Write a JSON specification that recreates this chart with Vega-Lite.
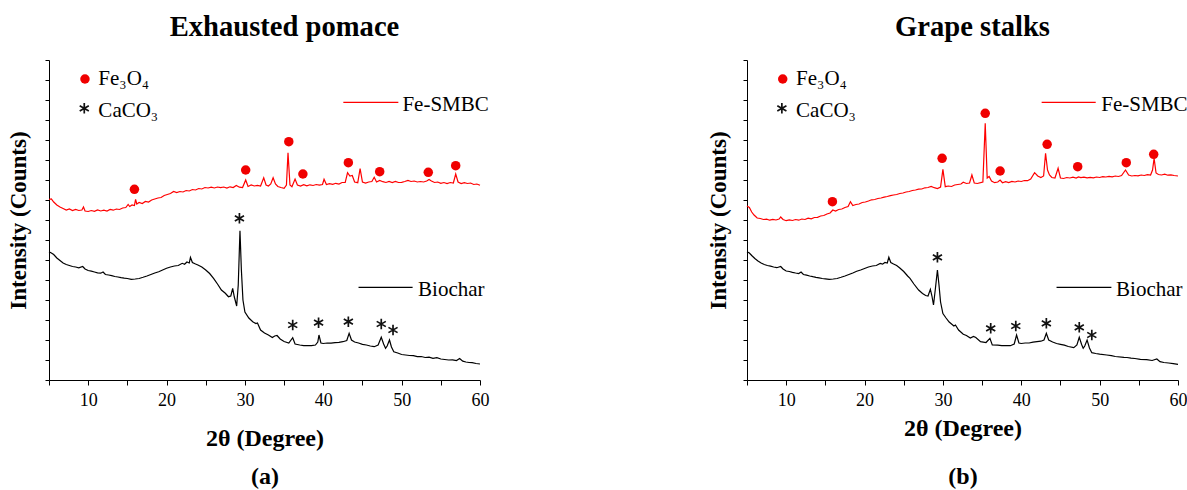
{
"$schema": "https://vega.github.io/schema/vega-lite/v6.json",
"autosize": {"type": "none"},
"padding": {"left": 49, "top": 60, "right": 1138, "bottom": 430},
"spacing": 267,
"bounds": "flush",
"config": {"view": {"stroke": null}, "font": "Liberation Serif", "text": {"font": "Liberation Serif"}},
"datasets": {
"curves": [
{"p":"a","s":"Fe-SMBC","x":5,"y":180.7},{"p":"a","s":"Fe-SMBC","x":5.3,"y":181},{"p":"a","s":"Fe-SMBC","x":5.6,"y":178},{"p":"a","s":"Fe-SMBC","x":6,"y":175},{"p":"a","s":"Fe-SMBC","x":6.4,"y":173},{"p":"a","s":"Fe-SMBC","x":6.8,"y":171.5},{"p":"a","s":"Fe-SMBC","x":7.2,"y":170},{"p":"a","s":"Fe-SMBC","x":7.6,"y":171},{"p":"a","s":"Fe-SMBC","x":8,"y":169.5},{"p":"a","s":"Fe-SMBC","x":8.4,"y":170.5},{"p":"a","s":"Fe-SMBC","x":8.8,"y":169.5},{"p":"a","s":"Fe-SMBC","x":9.2,"y":170},{"p":"a","s":"Fe-SMBC","x":9.4,"y":173},{"p":"a","s":"Fe-SMBC","x":9.6,"y":169},{"p":"a","s":"Fe-SMBC","x":10,"y":168.5},{"p":"a","s":"Fe-SMBC","x":10.4,"y":169.5},{"p":"a","s":"Fe-SMBC","x":10.8,"y":168.7},{"p":"a","s":"Fe-SMBC","x":11.2,"y":170},{"p":"a","s":"Fe-SMBC","x":11.6,"y":169},{"p":"a","s":"Fe-SMBC","x":12,"y":169.8},{"p":"a","s":"Fe-SMBC","x":12.4,"y":169},{"p":"a","s":"Fe-SMBC","x":12.8,"y":170.5},{"p":"a","s":"Fe-SMBC","x":13.2,"y":169.8},{"p":"a","s":"Fe-SMBC","x":13.6,"y":171},{"p":"a","s":"Fe-SMBC","x":14,"y":170.5},{"p":"a","s":"Fe-SMBC","x":14.4,"y":172},{"p":"a","s":"Fe-SMBC","x":14.8,"y":172.5},{"p":"a","s":"Fe-SMBC","x":15.1,"y":175.5},{"p":"a","s":"Fe-SMBC","x":15.3,"y":173.5},{"p":"a","s":"Fe-SMBC","x":15.6,"y":175},{"p":"a","s":"Fe-SMBC","x":15.9,"y":174.5},{"p":"a","s":"Fe-SMBC","x":16.05,"y":180.7},{"p":"a","s":"Fe-SMBC","x":16.2,"y":176},{"p":"a","s":"Fe-SMBC","x":16.5,"y":177.5},{"p":"a","s":"Fe-SMBC","x":16.9,"y":176.5},{"p":"a","s":"Fe-SMBC","x":17.3,"y":178.5},{"p":"a","s":"Fe-SMBC","x":17.7,"y":178},{"p":"a","s":"Fe-SMBC","x":18.1,"y":180},{"p":"a","s":"Fe-SMBC","x":18.5,"y":181},{"p":"a","s":"Fe-SMBC","x":18.9,"y":182},{"p":"a","s":"Fe-SMBC","x":19.3,"y":182.5},{"p":"a","s":"Fe-SMBC","x":19.7,"y":184.5},{"p":"a","s":"Fe-SMBC","x":20.1,"y":185.5},{"p":"a","s":"Fe-SMBC","x":20.5,"y":186.5},{"p":"a","s":"Fe-SMBC","x":20.9,"y":188.5},{"p":"a","s":"Fe-SMBC","x":21.3,"y":187.5},{"p":"a","s":"Fe-SMBC","x":21.7,"y":188.5},{"p":"a","s":"Fe-SMBC","x":22.1,"y":188},{"p":"a","s":"Fe-SMBC","x":22.5,"y":189.5},{"p":"a","s":"Fe-SMBC","x":22.9,"y":189},{"p":"a","s":"Fe-SMBC","x":23.3,"y":190.5},{"p":"a","s":"Fe-SMBC","x":23.7,"y":190},{"p":"a","s":"Fe-SMBC","x":24.1,"y":191.5},{"p":"a","s":"Fe-SMBC","x":24.5,"y":191},{"p":"a","s":"Fe-SMBC","x":24.9,"y":192.5},{"p":"a","s":"Fe-SMBC","x":25.3,"y":192},{"p":"a","s":"Fe-SMBC","x":25.7,"y":192.8},{"p":"a","s":"Fe-SMBC","x":26.1,"y":192},{"p":"a","s":"Fe-SMBC","x":26.5,"y":193},{"p":"a","s":"Fe-SMBC","x":26.9,"y":192.3},{"p":"a","s":"Fe-SMBC","x":27.3,"y":193},{"p":"a","s":"Fe-SMBC","x":27.7,"y":192},{"p":"a","s":"Fe-SMBC","x":28.1,"y":193.2},{"p":"a","s":"Fe-SMBC","x":28.5,"y":192.5},{"p":"a","s":"Fe-SMBC","x":28.9,"y":194.5},{"p":"a","s":"Fe-SMBC","x":29.3,"y":192.8},{"p":"a","s":"Fe-SMBC","x":29.7,"y":192.5},{"p":"a","s":"Fe-SMBC","x":30.1,"y":200},{"p":"a","s":"Fe-SMBC","x":30.4,"y":193.5},{"p":"a","s":"Fe-SMBC","x":30.8,"y":195},{"p":"a","s":"Fe-SMBC","x":31.2,"y":194},{"p":"a","s":"Fe-SMBC","x":31.6,"y":194.7},{"p":"a","s":"Fe-SMBC","x":32,"y":194},{"p":"a","s":"Fe-SMBC","x":32.4,"y":202.3},{"p":"a","s":"Fe-SMBC","x":32.7,"y":195},{"p":"a","s":"Fe-SMBC","x":33,"y":194},{"p":"a","s":"Fe-SMBC","x":33.3,"y":196},{"p":"a","s":"Fe-SMBC","x":33.6,"y":202.3},{"p":"a","s":"Fe-SMBC","x":33.9,"y":196},{"p":"a","s":"Fe-SMBC","x":34.2,"y":193.5},{"p":"a","s":"Fe-SMBC","x":34.6,"y":192.5},{"p":"a","s":"Fe-SMBC","x":35,"y":191.7},{"p":"a","s":"Fe-SMBC","x":35.3,"y":195},{"p":"a","s":"Fe-SMBC","x":35.5,"y":227.3},{"p":"a","s":"Fe-SMBC","x":35.75,"y":195},{"p":"a","s":"Fe-SMBC","x":36,"y":193.3},{"p":"a","s":"Fe-SMBC","x":36.4,"y":201},{"p":"a","s":"Fe-SMBC","x":36.7,"y":195},{"p":"a","s":"Fe-SMBC","x":37.1,"y":194},{"p":"a","s":"Fe-SMBC","x":37.5,"y":195.3},{"p":"a","s":"Fe-SMBC","x":37.9,"y":194.2},{"p":"a","s":"Fe-SMBC","x":38.3,"y":195.2},{"p":"a","s":"Fe-SMBC","x":38.7,"y":194.5},{"p":"a","s":"Fe-SMBC","x":39.1,"y":195.5},{"p":"a","s":"Fe-SMBC","x":39.5,"y":194.8},{"p":"a","s":"Fe-SMBC","x":39.9,"y":195.5},{"p":"a","s":"Fe-SMBC","x":40.1,"y":200.7},{"p":"a","s":"Fe-SMBC","x":40.4,"y":195.5},{"p":"a","s":"Fe-SMBC","x":40.8,"y":196.3},{"p":"a","s":"Fe-SMBC","x":41.2,"y":195.6},{"p":"a","s":"Fe-SMBC","x":41.6,"y":196.7},{"p":"a","s":"Fe-SMBC","x":42,"y":196},{"p":"a","s":"Fe-SMBC","x":42.4,"y":197.5},{"p":"a","s":"Fe-SMBC","x":42.8,"y":197.5},{"p":"a","s":"Fe-SMBC","x":43.1,"y":207.3},{"p":"a","s":"Fe-SMBC","x":43.4,"y":204},{"p":"a","s":"Fe-SMBC","x":43.7,"y":204.5},{"p":"a","s":"Fe-SMBC","x":44,"y":198},{"p":"a","s":"Fe-SMBC","x":44.4,"y":197.3},{"p":"a","s":"Fe-SMBC","x":44.7,"y":211.3},{"p":"a","s":"Fe-SMBC","x":45,"y":198},{"p":"a","s":"Fe-SMBC","x":45.4,"y":197},{"p":"a","s":"Fe-SMBC","x":45.8,"y":198},{"p":"a","s":"Fe-SMBC","x":46.2,"y":198.5},{"p":"a","s":"Fe-SMBC","x":46.5,"y":202.7},{"p":"a","s":"Fe-SMBC","x":46.8,"y":198},{"p":"a","s":"Fe-SMBC","x":47.2,"y":199.5},{"p":"a","s":"Fe-SMBC","x":47.6,"y":198.3},{"p":"a","s":"Fe-SMBC","x":48,"y":197.5},{"p":"a","s":"Fe-SMBC","x":48.4,"y":198.5},{"p":"a","s":"Fe-SMBC","x":48.8,"y":197.5},{"p":"a","s":"Fe-SMBC","x":49.2,"y":198.5},{"p":"a","s":"Fe-SMBC","x":49.6,"y":197.5},{"p":"a","s":"Fe-SMBC","x":50,"y":197.7},{"p":"a","s":"Fe-SMBC","x":50.4,"y":198.5},{"p":"a","s":"Fe-SMBC","x":50.8,"y":199.5},{"p":"a","s":"Fe-SMBC","x":51.2,"y":198.5},{"p":"a","s":"Fe-SMBC","x":51.6,"y":199},{"p":"a","s":"Fe-SMBC","x":52,"y":198},{"p":"a","s":"Fe-SMBC","x":52.4,"y":198.5},{"p":"a","s":"Fe-SMBC","x":52.8,"y":198},{"p":"a","s":"Fe-SMBC","x":53.2,"y":199},{"p":"a","s":"Fe-SMBC","x":53.5,"y":200.5},{"p":"a","s":"Fe-SMBC","x":53.8,"y":199},{"p":"a","s":"Fe-SMBC","x":54.2,"y":197.5},{"p":"a","s":"Fe-SMBC","x":54.6,"y":198},{"p":"a","s":"Fe-SMBC","x":55,"y":196.7},{"p":"a","s":"Fe-SMBC","x":55.4,"y":197.5},{"p":"a","s":"Fe-SMBC","x":55.8,"y":196.5},{"p":"a","s":"Fe-SMBC","x":56.2,"y":197.5},{"p":"a","s":"Fe-SMBC","x":56.6,"y":197},{"p":"a","s":"Fe-SMBC","x":56.9,"y":206},{"p":"a","s":"Fe-SMBC","x":57.2,"y":198},{"p":"a","s":"Fe-SMBC","x":57.6,"y":196.5},{"p":"a","s":"Fe-SMBC","x":58,"y":197.3},{"p":"a","s":"Fe-SMBC","x":58.4,"y":196.5},{"p":"a","s":"Fe-SMBC","x":58.8,"y":197},{"p":"a","s":"Fe-SMBC","x":59.2,"y":195.5},{"p":"a","s":"Fe-SMBC","x":59.6,"y":196},{"p":"a","s":"Fe-SMBC","x":60,"y":194.7},
{"p":"a","s":"Biochar","x":5,"y":128.3},{"p":"a","s":"Biochar","x":5.3,"y":127},{"p":"a","s":"Biochar","x":5.6,"y":125.5},{"p":"a","s":"Biochar","x":6,"y":122},{"p":"a","s":"Biochar","x":6.4,"y":119.5},{"p":"a","s":"Biochar","x":6.8,"y":117},{"p":"a","s":"Biochar","x":7.2,"y":115.5},{"p":"a","s":"Biochar","x":7.6,"y":114.5},{"p":"a","s":"Biochar","x":8,"y":113.5},{"p":"a","s":"Biochar","x":8.4,"y":113},{"p":"a","s":"Biochar","x":8.8,"y":112.2},{"p":"a","s":"Biochar","x":9.3,"y":113.5},{"p":"a","s":"Biochar","x":9.6,"y":111},{"p":"a","s":"Biochar","x":10,"y":109.5},{"p":"a","s":"Biochar","x":10.4,"y":108.8},{"p":"a","s":"Biochar","x":10.8,"y":108},{"p":"a","s":"Biochar","x":11.2,"y":107.2},{"p":"a","s":"Biochar","x":11.6,"y":106.8},{"p":"a","s":"Biochar","x":11.9,"y":108},{"p":"a","s":"Biochar","x":12.2,"y":105.5},{"p":"a","s":"Biochar","x":12.6,"y":105},{"p":"a","s":"Biochar","x":13,"y":104.3},{"p":"a","s":"Biochar","x":13.4,"y":103.5},{"p":"a","s":"Biochar","x":13.8,"y":103},{"p":"a","s":"Biochar","x":14.2,"y":102.3},{"p":"a","s":"Biochar","x":14.6,"y":101.8},{"p":"a","s":"Biochar","x":15,"y":101.5},{"p":"a","s":"Biochar","x":15.5,"y":100.7},{"p":"a","s":"Biochar","x":16,"y":101},{"p":"a","s":"Biochar","x":16.5,"y":101.5},{"p":"a","s":"Biochar","x":17,"y":102.7},{"p":"a","s":"Biochar","x":17.5,"y":104},{"p":"a","s":"Biochar","x":18,"y":105.5},{"p":"a","s":"Biochar","x":18.5,"y":107},{"p":"a","s":"Biochar","x":19,"y":108.3},{"p":"a","s":"Biochar","x":19.5,"y":110},{"p":"a","s":"Biochar","x":20,"y":111.7},{"p":"a","s":"Biochar","x":20.5,"y":113},{"p":"a","s":"Biochar","x":21,"y":114},{"p":"a","s":"Biochar","x":21.5,"y":114.5},{"p":"a","s":"Biochar","x":22,"y":116.7},{"p":"a","s":"Biochar","x":22.3,"y":115.8},{"p":"a","s":"Biochar","x":22.6,"y":118},{"p":"a","s":"Biochar","x":22.9,"y":117},{"p":"a","s":"Biochar","x":23.05,"y":122.7},{"p":"a","s":"Biochar","x":23.3,"y":117.5},{"p":"a","s":"Biochar","x":23.7,"y":116},{"p":"a","s":"Biochar","x":24,"y":115},{"p":"a","s":"Biochar","x":24.5,"y":113},{"p":"a","s":"Biochar","x":25,"y":110},{"p":"a","s":"Biochar","x":25.5,"y":106.5},{"p":"a","s":"Biochar","x":26,"y":101.7},{"p":"a","s":"Biochar","x":26.5,"y":96},{"p":"a","s":"Biochar","x":27,"y":90},{"p":"a","s":"Biochar","x":27.5,"y":86.7},{"p":"a","s":"Biochar","x":27.9,"y":83.3},{"p":"a","s":"Biochar","x":28.2,"y":84},{"p":"a","s":"Biochar","x":28.44,"y":91.7},{"p":"a","s":"Biochar","x":28.65,"y":83},{"p":"a","s":"Biochar","x":28.95,"y":74},{"p":"a","s":"Biochar","x":29.15,"y":95},{"p":"a","s":"Biochar","x":29.37,"y":149.3},{"p":"a","s":"Biochar","x":29.55,"y":110},{"p":"a","s":"Biochar","x":29.75,"y":80},{"p":"a","s":"Biochar","x":30,"y":68},{"p":"a","s":"Biochar","x":30.5,"y":62},{"p":"a","s":"Biochar","x":31,"y":58.3},{"p":"a","s":"Biochar","x":31.4,"y":56.5},{"p":"a","s":"Biochar","x":31.6,"y":57},{"p":"a","s":"Biochar","x":32,"y":50},{"p":"a","s":"Biochar","x":32.5,"y":47},{"p":"a","s":"Biochar","x":33,"y":45},{"p":"a","s":"Biochar","x":33.5,"y":42.5},{"p":"a","s":"Biochar","x":33.8,"y":44},{"p":"a","s":"Biochar","x":34.1,"y":44.5},{"p":"a","s":"Biochar","x":34.5,"y":41},{"p":"a","s":"Biochar","x":35,"y":38.5},{"p":"a","s":"Biochar","x":35.6,"y":37},{"p":"a","s":"Biochar","x":36.1,"y":42.3},{"p":"a","s":"Biochar","x":36.4,"y":36},{"p":"a","s":"Biochar","x":37,"y":35},{"p":"a","s":"Biochar","x":37.5,"y":34.3},{"p":"a","s":"Biochar","x":38,"y":34.5},{"p":"a","s":"Biochar","x":38.5,"y":34.3},{"p":"a","s":"Biochar","x":39,"y":35},{"p":"a","s":"Biochar","x":39.3,"y":38},{"p":"a","s":"Biochar","x":39.45,"y":45},{"p":"a","s":"Biochar","x":39.7,"y":37},{"p":"a","s":"Biochar","x":40,"y":36.5},{"p":"a","s":"Biochar","x":40.5,"y":37},{"p":"a","s":"Biochar","x":41,"y":36.8},{"p":"a","s":"Biochar","x":41.5,"y":37.3},{"p":"a","s":"Biochar","x":42,"y":37.7},{"p":"a","s":"Biochar","x":42.5,"y":38.3},{"p":"a","s":"Biochar","x":43,"y":39.5},{"p":"a","s":"Biochar","x":43.3,"y":46.7},{"p":"a","s":"Biochar","x":43.6,"y":40},{"p":"a","s":"Biochar","x":44,"y":38},{"p":"a","s":"Biochar","x":44.5,"y":37},{"p":"a","s":"Biochar","x":45,"y":35.7},{"p":"a","s":"Biochar","x":45.5,"y":35},{"p":"a","s":"Biochar","x":46,"y":34},{"p":"a","s":"Biochar","x":46.5,"y":33.3},{"p":"a","s":"Biochar","x":47,"y":35},{"p":"a","s":"Biochar","x":47.4,"y":42.7},{"p":"a","s":"Biochar","x":47.7,"y":36},{"p":"a","s":"Biochar","x":47.95,"y":31.7},{"p":"a","s":"Biochar","x":48.15,"y":34},{"p":"a","s":"Biochar","x":48.45,"y":40},{"p":"a","s":"Biochar","x":48.7,"y":33},{"p":"a","s":"Biochar","x":49,"y":28.3},{"p":"a","s":"Biochar","x":49.5,"y":27},{"p":"a","s":"Biochar","x":50,"y":25.5},{"p":"a","s":"Biochar","x":50.5,"y":25},{"p":"a","s":"Biochar","x":51,"y":24.5},{"p":"a","s":"Biochar","x":51.5,"y":24.3},{"p":"a","s":"Biochar","x":52,"y":23.3},{"p":"a","s":"Biochar","x":52.5,"y":23.5},{"p":"a","s":"Biochar","x":53,"y":22.5},{"p":"a","s":"Biochar","x":53.5,"y":22.8},{"p":"a","s":"Biochar","x":54,"y":21.7},{"p":"a","s":"Biochar","x":54.5,"y":22.3},{"p":"a","s":"Biochar","x":55,"y":21},{"p":"a","s":"Biochar","x":55.5,"y":20.5},{"p":"a","s":"Biochar","x":56,"y":20},{"p":"a","s":"Biochar","x":56.5,"y":20.2},{"p":"a","s":"Biochar","x":57,"y":19.5},{"p":"a","s":"Biochar","x":57.4,"y":21.5},{"p":"a","s":"Biochar","x":57.8,"y":18.8},{"p":"a","s":"Biochar","x":58.2,"y":18},{"p":"a","s":"Biochar","x":58.6,"y":17.5},{"p":"a","s":"Biochar","x":59,"y":17.3},{"p":"a","s":"Biochar","x":59.5,"y":16.5},{"p":"a","s":"Biochar","x":60,"y":16},
{"p":"b","s":"Fe-SMBC","x":5,"y":174},{"p":"b","s":"Fe-SMBC","x":5.3,"y":172.5},{"p":"b","s":"Fe-SMBC","x":5.6,"y":168},{"p":"b","s":"Fe-SMBC","x":5.9,"y":165},{"p":"b","s":"Fe-SMBC","x":6.3,"y":162},{"p":"b","s":"Fe-SMBC","x":6.7,"y":161.5},{"p":"b","s":"Fe-SMBC","x":7.1,"y":160.5},{"p":"b","s":"Fe-SMBC","x":7.5,"y":160.8},{"p":"b","s":"Fe-SMBC","x":7.9,"y":159.8},{"p":"b","s":"Fe-SMBC","x":8.3,"y":160.7},{"p":"b","s":"Fe-SMBC","x":8.7,"y":160},{"p":"b","s":"Fe-SMBC","x":9.1,"y":161},{"p":"b","s":"Fe-SMBC","x":9.3,"y":163},{"p":"b","s":"Fe-SMBC","x":9.6,"y":160.5},{"p":"b","s":"Fe-SMBC","x":10,"y":159.3},{"p":"b","s":"Fe-SMBC","x":10.4,"y":160.2},{"p":"b","s":"Fe-SMBC","x":10.8,"y":159.5},{"p":"b","s":"Fe-SMBC","x":11.2,"y":160.5},{"p":"b","s":"Fe-SMBC","x":11.6,"y":159.8},{"p":"b","s":"Fe-SMBC","x":12,"y":161},{"p":"b","s":"Fe-SMBC","x":12.4,"y":160.5},{"p":"b","s":"Fe-SMBC","x":12.8,"y":161.8},{"p":"b","s":"Fe-SMBC","x":13.2,"y":161.2},{"p":"b","s":"Fe-SMBC","x":13.6,"y":162.5},{"p":"b","s":"Fe-SMBC","x":14,"y":162.7},{"p":"b","s":"Fe-SMBC","x":14.4,"y":164},{"p":"b","s":"Fe-SMBC","x":14.8,"y":164.5},{"p":"b","s":"Fe-SMBC","x":15.2,"y":166},{"p":"b","s":"Fe-SMBC","x":15.6,"y":167},{"p":"b","s":"Fe-SMBC","x":15.95,"y":170},{"p":"b","s":"Fe-SMBC","x":16.3,"y":169},{"p":"b","s":"Fe-SMBC","x":16.7,"y":170.5},{"p":"b","s":"Fe-SMBC","x":17.1,"y":171},{"p":"b","s":"Fe-SMBC","x":17.5,"y":172.5},{"p":"b","s":"Fe-SMBC","x":17.9,"y":173.5},{"p":"b","s":"Fe-SMBC","x":18.2,"y":178.3},{"p":"b","s":"Fe-SMBC","x":18.5,"y":174.5},{"p":"b","s":"Fe-SMBC","x":18.9,"y":175.5},{"p":"b","s":"Fe-SMBC","x":19.3,"y":176},{"p":"b","s":"Fe-SMBC","x":19.7,"y":177.5},{"p":"b","s":"Fe-SMBC","x":20.1,"y":178},{"p":"b","s":"Fe-SMBC","x":20.5,"y":179},{"p":"b","s":"Fe-SMBC","x":20.9,"y":180.2},{"p":"b","s":"Fe-SMBC","x":21.3,"y":180.5},{"p":"b","s":"Fe-SMBC","x":21.7,"y":181.5},{"p":"b","s":"Fe-SMBC","x":22.1,"y":182},{"p":"b","s":"Fe-SMBC","x":22.5,"y":182.8},{"p":"b","s":"Fe-SMBC","x":22.9,"y":183.5},{"p":"b","s":"Fe-SMBC","x":23.3,"y":184.3},{"p":"b","s":"Fe-SMBC","x":23.7,"y":185},{"p":"b","s":"Fe-SMBC","x":24.1,"y":185.5},{"p":"b","s":"Fe-SMBC","x":24.5,"y":186.5},{"p":"b","s":"Fe-SMBC","x":24.9,"y":187},{"p":"b","s":"Fe-SMBC","x":25.3,"y":188},{"p":"b","s":"Fe-SMBC","x":25.7,"y":188.5},{"p":"b","s":"Fe-SMBC","x":26.1,"y":189.5},{"p":"b","s":"Fe-SMBC","x":26.5,"y":190},{"p":"b","s":"Fe-SMBC","x":26.9,"y":190.8},{"p":"b","s":"Fe-SMBC","x":27.3,"y":191},{"p":"b","s":"Fe-SMBC","x":27.7,"y":192.2},{"p":"b","s":"Fe-SMBC","x":28.1,"y":192.5},{"p":"b","s":"Fe-SMBC","x":28.5,"y":193.5},{"p":"b","s":"Fe-SMBC","x":28.9,"y":192.3},{"p":"b","s":"Fe-SMBC","x":29.3,"y":191.5},{"p":"b","s":"Fe-SMBC","x":29.7,"y":193},{"p":"b","s":"Fe-SMBC","x":30,"y":210.7},{"p":"b","s":"Fe-SMBC","x":30.3,"y":193.3},{"p":"b","s":"Fe-SMBC","x":30.7,"y":194},{"p":"b","s":"Fe-SMBC","x":31.1,"y":193.5},{"p":"b","s":"Fe-SMBC","x":31.5,"y":195},{"p":"b","s":"Fe-SMBC","x":31.9,"y":195.5},{"p":"b","s":"Fe-SMBC","x":32.3,"y":196},{"p":"b","s":"Fe-SMBC","x":32.6,"y":197.8},{"p":"b","s":"Fe-SMBC","x":33,"y":196.5},{"p":"b","s":"Fe-SMBC","x":33.4,"y":197},{"p":"b","s":"Fe-SMBC","x":33.7,"y":205},{"p":"b","s":"Fe-SMBC","x":34,"y":197},{"p":"b","s":"Fe-SMBC","x":34.4,"y":196.5},{"p":"b","s":"Fe-SMBC","x":34.8,"y":197.3},{"p":"b","s":"Fe-SMBC","x":35.1,"y":198},{"p":"b","s":"Fe-SMBC","x":35.4,"y":256.7},{"p":"b","s":"Fe-SMBC","x":35.65,"y":202},{"p":"b","s":"Fe-SMBC","x":35.9,"y":203.5},{"p":"b","s":"Fe-SMBC","x":36.2,"y":199},{"p":"b","s":"Fe-SMBC","x":36.6,"y":197.3},{"p":"b","s":"Fe-SMBC","x":37,"y":198},{"p":"b","s":"Fe-SMBC","x":37.3,"y":200},{"p":"b","s":"Fe-SMBC","x":37.6,"y":197.3},{"p":"b","s":"Fe-SMBC","x":38,"y":198.3},{"p":"b","s":"Fe-SMBC","x":38.4,"y":197.5},{"p":"b","s":"Fe-SMBC","x":38.8,"y":198.6},{"p":"b","s":"Fe-SMBC","x":39.2,"y":198},{"p":"b","s":"Fe-SMBC","x":39.6,"y":199},{"p":"b","s":"Fe-SMBC","x":40,"y":198.5},{"p":"b","s":"Fe-SMBC","x":40.4,"y":199.5},{"p":"b","s":"Fe-SMBC","x":40.8,"y":199.3},{"p":"b","s":"Fe-SMBC","x":41.2,"y":201},{"p":"b","s":"Fe-SMBC","x":41.7,"y":207.3},{"p":"b","s":"Fe-SMBC","x":42.1,"y":204},{"p":"b","s":"Fe-SMBC","x":42.5,"y":202.5},{"p":"b","s":"Fe-SMBC","x":42.85,"y":204},{"p":"b","s":"Fe-SMBC","x":43.1,"y":226.7},{"p":"b","s":"Fe-SMBC","x":43.35,"y":210},{"p":"b","s":"Fe-SMBC","x":43.6,"y":205},{"p":"b","s":"Fe-SMBC","x":43.9,"y":202.5},{"p":"b","s":"Fe-SMBC","x":44.3,"y":202},{"p":"b","s":"Fe-SMBC","x":44.7,"y":211.7},{"p":"b","s":"Fe-SMBC","x":45,"y":202},{"p":"b","s":"Fe-SMBC","x":45.4,"y":201.5},{"p":"b","s":"Fe-SMBC","x":45.8,"y":202.5},{"p":"b","s":"Fe-SMBC","x":46.2,"y":202},{"p":"b","s":"Fe-SMBC","x":46.6,"y":202.8},{"p":"b","s":"Fe-SMBC","x":47,"y":202},{"p":"b","s":"Fe-SMBC","x":47.3,"y":203},{"p":"b","s":"Fe-SMBC","x":47.6,"y":202.3},{"p":"b","s":"Fe-SMBC","x":48,"y":202.8},{"p":"b","s":"Fe-SMBC","x":48.4,"y":202.2},{"p":"b","s":"Fe-SMBC","x":48.8,"y":202.6},{"p":"b","s":"Fe-SMBC","x":49.2,"y":202.2},{"p":"b","s":"Fe-SMBC","x":49.6,"y":203},{"p":"b","s":"Fe-SMBC","x":50,"y":202.5},{"p":"b","s":"Fe-SMBC","x":50.4,"y":203.3},{"p":"b","s":"Fe-SMBC","x":50.8,"y":203},{"p":"b","s":"Fe-SMBC","x":51.2,"y":203.6},{"p":"b","s":"Fe-SMBC","x":51.6,"y":203.2},{"p":"b","s":"Fe-SMBC","x":52,"y":204},{"p":"b","s":"Fe-SMBC","x":52.4,"y":203.5},{"p":"b","s":"Fe-SMBC","x":52.8,"y":204.5},{"p":"b","s":"Fe-SMBC","x":53.3,"y":210},{"p":"b","s":"Fe-SMBC","x":53.7,"y":205},{"p":"b","s":"Fe-SMBC","x":54.1,"y":204},{"p":"b","s":"Fe-SMBC","x":54.5,"y":204.5},{"p":"b","s":"Fe-SMBC","x":54.9,"y":204.2},{"p":"b","s":"Fe-SMBC","x":55.3,"y":205},{"p":"b","s":"Fe-SMBC","x":55.7,"y":204.5},{"p":"b","s":"Fe-SMBC","x":56.1,"y":205.3},{"p":"b","s":"Fe-SMBC","x":56.5,"y":205},{"p":"b","s":"Fe-SMBC","x":56.75,"y":210},{"p":"b","s":"Fe-SMBC","x":56.95,"y":221.7},{"p":"b","s":"Fe-SMBC","x":57.2,"y":207},{"p":"b","s":"Fe-SMBC","x":57.5,"y":205.5},{"p":"b","s":"Fe-SMBC","x":57.9,"y":205},{"p":"b","s":"Fe-SMBC","x":58.3,"y":205.8},{"p":"b","s":"Fe-SMBC","x":58.7,"y":204.8},{"p":"b","s":"Fe-SMBC","x":59.1,"y":205.2},{"p":"b","s":"Fe-SMBC","x":59.5,"y":204.5},{"p":"b","s":"Fe-SMBC","x":60,"y":204},
{"p":"b","s":"Biochar","x":5,"y":128.3},{"p":"b","s":"Biochar","x":5.3,"y":127},{"p":"b","s":"Biochar","x":5.6,"y":124.5},{"p":"b","s":"Biochar","x":6,"y":121.5},{"p":"b","s":"Biochar","x":6.4,"y":119},{"p":"b","s":"Biochar","x":6.8,"y":117},{"p":"b","s":"Biochar","x":7.2,"y":115.5},{"p":"b","s":"Biochar","x":7.6,"y":114.5},{"p":"b","s":"Biochar","x":8,"y":113.8},{"p":"b","s":"Biochar","x":8.4,"y":113},{"p":"b","s":"Biochar","x":8.8,"y":112.3},{"p":"b","s":"Biochar","x":9.3,"y":113.5},{"p":"b","s":"Biochar","x":9.6,"y":111},{"p":"b","s":"Biochar","x":10,"y":109},{"p":"b","s":"Biochar","x":10.4,"y":108.5},{"p":"b","s":"Biochar","x":10.8,"y":107.7},{"p":"b","s":"Biochar","x":11.2,"y":107},{"p":"b","s":"Biochar","x":11.6,"y":106.5},{"p":"b","s":"Biochar","x":11.9,"y":108},{"p":"b","s":"Biochar","x":12.2,"y":105.5},{"p":"b","s":"Biochar","x":12.6,"y":104.8},{"p":"b","s":"Biochar","x":13,"y":104},{"p":"b","s":"Biochar","x":13.4,"y":103.3},{"p":"b","s":"Biochar","x":13.8,"y":102.7},{"p":"b","s":"Biochar","x":14.2,"y":102.2},{"p":"b","s":"Biochar","x":14.6,"y":101.5},{"p":"b","s":"Biochar","x":15,"y":101.2},{"p":"b","s":"Biochar","x":15.5,"y":100.7},{"p":"b","s":"Biochar","x":16,"y":101},{"p":"b","s":"Biochar","x":16.5,"y":101.5},{"p":"b","s":"Biochar","x":17,"y":102.7},{"p":"b","s":"Biochar","x":17.5,"y":104},{"p":"b","s":"Biochar","x":18,"y":105.5},{"p":"b","s":"Biochar","x":18.5,"y":107},{"p":"b","s":"Biochar","x":19,"y":108.7},{"p":"b","s":"Biochar","x":19.5,"y":110},{"p":"b","s":"Biochar","x":20,"y":111.5},{"p":"b","s":"Biochar","x":20.5,"y":113},{"p":"b","s":"Biochar","x":21,"y":114},{"p":"b","s":"Biochar","x":21.5,"y":114.5},{"p":"b","s":"Biochar","x":22,"y":116.5},{"p":"b","s":"Biochar","x":22.3,"y":115.8},{"p":"b","s":"Biochar","x":22.6,"y":117.5},{"p":"b","s":"Biochar","x":22.9,"y":117},{"p":"b","s":"Biochar","x":23.1,"y":122.7},{"p":"b","s":"Biochar","x":23.35,"y":117.5},{"p":"b","s":"Biochar","x":23.7,"y":116},{"p":"b","s":"Biochar","x":24.1,"y":114.5},{"p":"b","s":"Biochar","x":24.5,"y":112},{"p":"b","s":"Biochar","x":25,"y":108.5},{"p":"b","s":"Biochar","x":25.5,"y":104},{"p":"b","s":"Biochar","x":25.8,"y":101.7},{"p":"b","s":"Biochar","x":26.3,"y":96},{"p":"b","s":"Biochar","x":26.9,"y":90},{"p":"b","s":"Biochar","x":27.4,"y":86.5},{"p":"b","s":"Biochar","x":27.8,"y":84.5},{"p":"b","s":"Biochar","x":28.1,"y":84},{"p":"b","s":"Biochar","x":28.4,"y":90.7},{"p":"b","s":"Biochar","x":28.6,"y":84},{"p":"b","s":"Biochar","x":28.8,"y":75},{"p":"b","s":"Biochar","x":29.05,"y":92},{"p":"b","s":"Biochar","x":29.3,"y":110},{"p":"b","s":"Biochar","x":29.5,"y":95},{"p":"b","s":"Biochar","x":29.7,"y":78},{"p":"b","s":"Biochar","x":30,"y":66.5},{"p":"b","s":"Biochar","x":30.4,"y":62},{"p":"b","s":"Biochar","x":30.8,"y":58},{"p":"b","s":"Biochar","x":31.4,"y":54},{"p":"b","s":"Biochar","x":31.6,"y":55},{"p":"b","s":"Biochar","x":32,"y":50},{"p":"b","s":"Biochar","x":32.6,"y":45.7},{"p":"b","s":"Biochar","x":33,"y":44.5},{"p":"b","s":"Biochar","x":33.5,"y":42},{"p":"b","s":"Biochar","x":33.9,"y":43.5},{"p":"b","s":"Biochar","x":34.2,"y":42.5},{"p":"b","s":"Biochar","x":34.8,"y":38.3},{"p":"b","s":"Biochar","x":35.5,"y":37.5},{"p":"b","s":"Biochar","x":36,"y":41.7},{"p":"b","s":"Biochar","x":36.3,"y":35},{"p":"b","s":"Biochar","x":37,"y":34.8},{"p":"b","s":"Biochar","x":37.5,"y":34.3},{"p":"b","s":"Biochar","x":38,"y":34.5},{"p":"b","s":"Biochar","x":38.6,"y":34.3},{"p":"b","s":"Biochar","x":39.1,"y":36},{"p":"b","s":"Biochar","x":39.4,"y":45},{"p":"b","s":"Biochar","x":39.7,"y":37},{"p":"b","s":"Biochar","x":40,"y":36.5},{"p":"b","s":"Biochar","x":40.5,"y":37},{"p":"b","s":"Biochar","x":41,"y":37},{"p":"b","s":"Biochar","x":41.5,"y":37.8},{"p":"b","s":"Biochar","x":42,"y":38.3},{"p":"b","s":"Biochar","x":42.5,"y":38.8},{"p":"b","s":"Biochar","x":42.9,"y":40},{"p":"b","s":"Biochar","x":43.2,"y":46.7},{"p":"b","s":"Biochar","x":43.5,"y":40},{"p":"b","s":"Biochar","x":44,"y":38},{"p":"b","s":"Biochar","x":44.5,"y":36.5},{"p":"b","s":"Biochar","x":45,"y":35.7},{"p":"b","s":"Biochar","x":45.5,"y":34.8},{"p":"b","s":"Biochar","x":46,"y":33.5},{"p":"b","s":"Biochar","x":46.7,"y":32.3},{"p":"b","s":"Biochar","x":47.1,"y":35},{"p":"b","s":"Biochar","x":47.4,"y":42.7},{"p":"b","s":"Biochar","x":47.7,"y":35.5},{"p":"b","s":"Biochar","x":47.9,"y":31.7},{"p":"b","s":"Biochar","x":48.1,"y":34},{"p":"b","s":"Biochar","x":48.4,"y":40},{"p":"b","s":"Biochar","x":48.7,"y":32},{"p":"b","s":"Biochar","x":49,"y":27.3},{"p":"b","s":"Biochar","x":49.5,"y":26.5},{"p":"b","s":"Biochar","x":50,"y":25.8},{"p":"b","s":"Biochar","x":50.9,"y":25},{"p":"b","s":"Biochar","x":51.5,"y":24.3},{"p":"b","s":"Biochar","x":52,"y":23.5},{"p":"b","s":"Biochar","x":53.1,"y":22.7},{"p":"b","s":"Biochar","x":53.5,"y":22.5},{"p":"b","s":"Biochar","x":54,"y":21.8},{"p":"b","s":"Biochar","x":54.5,"y":21.5},{"p":"b","s":"Biochar","x":55.2,"y":20.7},{"p":"b","s":"Biochar","x":56,"y":20.3},{"p":"b","s":"Biochar","x":56.7,"y":19.5},{"p":"b","s":"Biochar","x":57.3,"y":21},{"p":"b","s":"Biochar","x":57.7,"y":18.3},{"p":"b","s":"Biochar","x":58.2,"y":17.5},{"p":"b","s":"Biochar","x":58.8,"y":17},{"p":"b","s":"Biochar","x":59.4,"y":16.3},{"p":"b","s":"Biochar","x":60,"y":15.7}
],
"fe3o4": [
{"p":"a","x":15.9,"y":190.7},{"p":"a","x":30.1,"y":210},{"p":"a","x":35.6,"y":238.3},{"p":"a","x":37.4,"y":206},{"p":"a","x":43.2,"y":217.3},{"p":"a","x":47.2,"y":208.3},{"p":"a","x":53.4,"y":207.7},{"p":"a","x":56.9,"y":214.3},{"p":"a","x":9.59,"y":301},
{"p":"b","x":15.9,"y":178.3},{"p":"b","x":29.9,"y":221.7},{"p":"b","x":35.4,"y":266.7},{"p":"b","x":37.3,"y":209},{"p":"b","x":43.3,"y":235.7},{"p":"b","x":47.2,"y":213.3},{"p":"b","x":53.4,"y":217.3},{"p":"b","x":56.9,"y":225.7},{"p":"b","x":9.56,"y":301}
],
"caco3": [
{"p":"a","x":29.3,"y":161.7},{"p":"a","x":36.1,"y":55},{"p":"a","x":39.4,"y":57.3},{"p":"a","x":43.2,"y":58.3},{"p":"a","x":47.4,"y":56},{"p":"a","x":48.9,"y":50},{"p":"a","x":9.5,"y":271.7},
{"p":"b","x":29.3,"y":122.7},{"p":"b","x":36.1,"y":51.7},{"p":"b","x":39.3,"y":54},{"p":"b","x":43.2,"y":56.7},{"p":"b","x":47.4,"y":52.7},{"p":"b","x":49,"y":45},{"p":"b","x":9.45,"y":271.7}
],
"labels": [
{"p":"a","x":11.3,"y":295,"label":"Fe₃O₄"},{"p":"a","x":11.3,"y":263.3,"label":"CaCO₃"},{"p":"a","x":50.1,"y":269.3,"label":"Fe-SMBC"},{"p":"a","x":52.1,"y":84.3,"label":"Biochar"},
{"p":"b","x":11.26,"y":295,"label":"Fe₃O₄"},{"p":"b","x":11.26,"y":263.3,"label":"CaCO₃"},{"p":"b","x":50.2,"y":269,"label":"Fe-SMBC"},{"p":"b","x":52.1,"y":84,"label":"Biochar"}
],
"keys": [
{"p":"a","s":"Fe-SMBC","x":42.56,"x2":49.58,"y":277.7},{"p":"a","s":"Biochar","x":44.5,"x2":51.4,"y":92.7},
{"p":"b","s":"Fe-SMBC","x":42.6,"x2":49.5,"y":277.7},{"p":"b","s":"Biochar","x":44.5,"x2":51.5,"y":92.7}
]
},
"hconcat": [
{
"width": 431, "height": 320,
"title": {"text": "Exhausted pomace", "font": "Liberation Serif", "fontSize": 28.6, "fontWeight": "bold", "color": "#000", "anchor": "middle", "frame": "group", "dx": 20, "offset": -5, "baseline": "alphabetic"},
"layer": [
{"data": {"name": "curves"}, "transform": [{"filter": "datum.p === 'a'"}], "mark": {"type": "line", "strokeWidth": 1.2},
 "encoding": {
  "x": {"field": "x", "type": "quantitative", "scale": {"domain": [5, 60], "nice": false, "zero": false},
   "axis": {"title": ["2θ (Degree)", "(a)"], "values": [5,10,15,20,25,30,35,40,45,50,55,60], "tickCount": 30, "labelOverlap": false, "labelExpr": "datum.value % 10 === 0 ? datum.label : ''", "grid": false, "labelFlush": false, "domainColor": "#000", "tickColor": "#000", "tickSize": 5, "labelFont": "Liberation Serif", "labelFontSize": 18, "labelColor": "#000", "labelPadding": 6, "titleFont": "Liberation Serif", "titleFontSize": 24, "titleFontWeight": "bold", "titleColor": "#000", "titleLineHeight": 38, "titlePadding": 36, "titleBaseline": "alphabetic"}},
  "y": {"field": "y", "type": "quantitative", "scale": {"domain": [0, 320], "nice": false},
   "axis": {"title": "Intensity (Counts)", "values": [0,20,40,60,80,100,120,140,160,180,200,220,240,260,280,300,320], "tickCount": 40, "labels": false, "grid": false, "domainColor": "#000", "tickColor": "#000", "tickSize": 4, "titleFont": "Liberation Serif", "titleFontSize": 23, "titleFontWeight": "bold", "titleColor": "#000", "titlePadding": 26, "titleBaseline": "middle"}},
  "color": {"field": "s", "type": "nominal", "scale": {"domain": ["Fe-SMBC", "Biochar"], "range": ["#ff0000", "#000000"]}, "legend": null}
 }},
{"data": {"name": "keys"}, "transform": [{"filter": "datum.p === 'a'"}], "mark": {"type": "rule", "strokeWidth": 1.2},
 "encoding": {"x": {"field": "x", "type": "quantitative"}, "x2": {"field": "x2"}, "y": {"field": "y", "type": "quantitative"}, "color": {"field": "s", "type": "nominal", "legend": null}}},
{"data": {"name": "fe3o4"}, "transform": [{"filter": "datum.p === 'a'"}], "mark": {"type": "point", "shape": "circle", "filled": true, "size": 90, "color": "#f00000", "opacity": 1},
 "encoding": {"x": {"field": "x", "type": "quantitative"}, "y": {"field": "y", "type": "quantitative"}}},
{"data": {"name": "caco3"}, "transform": [{"filter": "datum.p === 'a'"}], "mark": {"type": "point", "shape": "M0,-1L0,1M-0.87,-0.5L0.87,0.5M-0.87,0.5L0.87,-0.5", "filled": false, "size": 110, "color": "#111", "strokeWidth": 1.7, "opacity": 1},
 "encoding": {"x": {"field": "x", "type": "quantitative"}, "y": {"field": "y", "type": "quantitative"}}},
{"data": {"name": "labels"}, "transform": [{"filter": "datum.p === 'a'"}], "mark": {"type": "text", "align": "left", "baseline": "alphabetic", "fontSize": 21, "font": "Liberation Serif", "color": "#000"},
 "encoding": {"x": {"field": "x", "type": "quantitative"}, "y": {"field": "y", "type": "quantitative"}, "text": {"field": "label"}}}
]
},
{
"width": 431, "height": 320,
"title": {"text": "Grape stalks", "font": "Liberation Serif", "fontSize": 28.6, "fontWeight": "bold", "color": "#000", "anchor": "middle", "frame": "group", "dx": 10, "offset": -5, "baseline": "alphabetic"},
"layer": [
{"data": {"name": "curves"}, "transform": [{"filter": "datum.p === 'b'"}], "mark": {"type": "line", "strokeWidth": 1.2},
 "encoding": {
  "x": {"field": "x", "type": "quantitative", "scale": {"domain": [5, 60], "nice": false, "zero": false},
   "axis": {"title": ["2θ (Degree)", "(b)"], "values": [5,10,15,20,25,30,35,40,45,50,55,60], "tickCount": 30, "labelOverlap": false, "labelExpr": "datum.value % 10 === 0 ? datum.label : ''", "grid": false, "labelFlush": false, "domainColor": "#000", "tickColor": "#000", "tickSize": 5, "labelFont": "Liberation Serif", "labelFontSize": 18, "labelColor": "#000", "labelPadding": 6, "titleFont": "Liberation Serif", "titleFontSize": 24, "titleFontWeight": "bold", "titleColor": "#000", "titleLineHeight": 48, "titlePadding": 26, "titleBaseline": "alphabetic"}},
  "y": {"field": "y", "type": "quantitative", "scale": {"domain": [0, 320], "nice": false},
   "axis": {"title": "Intensity (Counts)", "values": [0,20,40,60,80,100,120,140,160,180,200,220,240,260,280,300,320], "tickCount": 40, "labels": false, "grid": false, "domainColor": "#000", "tickColor": "#000", "tickSize": 4, "titleFont": "Liberation Serif", "titleFontSize": 23, "titleFontWeight": "bold", "titleColor": "#000", "titlePadding": 24, "titleBaseline": "middle"}},
  "color": {"field": "s", "type": "nominal", "scale": {"domain": ["Fe-SMBC", "Biochar"], "range": ["#ff0000", "#000000"]}, "legend": null}
 }},
{"data": {"name": "keys"}, "transform": [{"filter": "datum.p === 'b'"}], "mark": {"type": "rule", "strokeWidth": 1.2},
 "encoding": {"x": {"field": "x", "type": "quantitative"}, "x2": {"field": "x2"}, "y": {"field": "y", "type": "quantitative"}, "color": {"field": "s", "type": "nominal", "legend": null}}},
{"data": {"name": "fe3o4"}, "transform": [{"filter": "datum.p === 'b'"}], "mark": {"type": "point", "shape": "circle", "filled": true, "size": 90, "color": "#f00000", "opacity": 1},
 "encoding": {"x": {"field": "x", "type": "quantitative"}, "y": {"field": "y", "type": "quantitative"}}},
{"data": {"name": "caco3"}, "transform": [{"filter": "datum.p === 'b'"}], "mark": {"type": "point", "shape": "M0,-1L0,1M-0.87,-0.5L0.87,0.5M-0.87,0.5L0.87,-0.5", "filled": false, "size": 110, "color": "#111", "strokeWidth": 1.7, "opacity": 1},
 "encoding": {"x": {"field": "x", "type": "quantitative"}, "y": {"field": "y", "type": "quantitative"}}},
{"data": {"name": "labels"}, "transform": [{"filter": "datum.p === 'b'"}], "mark": {"type": "text", "align": "left", "baseline": "alphabetic", "fontSize": 21, "font": "Liberation Serif", "color": "#000"},
 "encoding": {"x": {"field": "x", "type": "quantitative"}, "y": {"field": "y", "type": "quantitative"}, "text": {"field": "label"}}}
]
}
]
}
